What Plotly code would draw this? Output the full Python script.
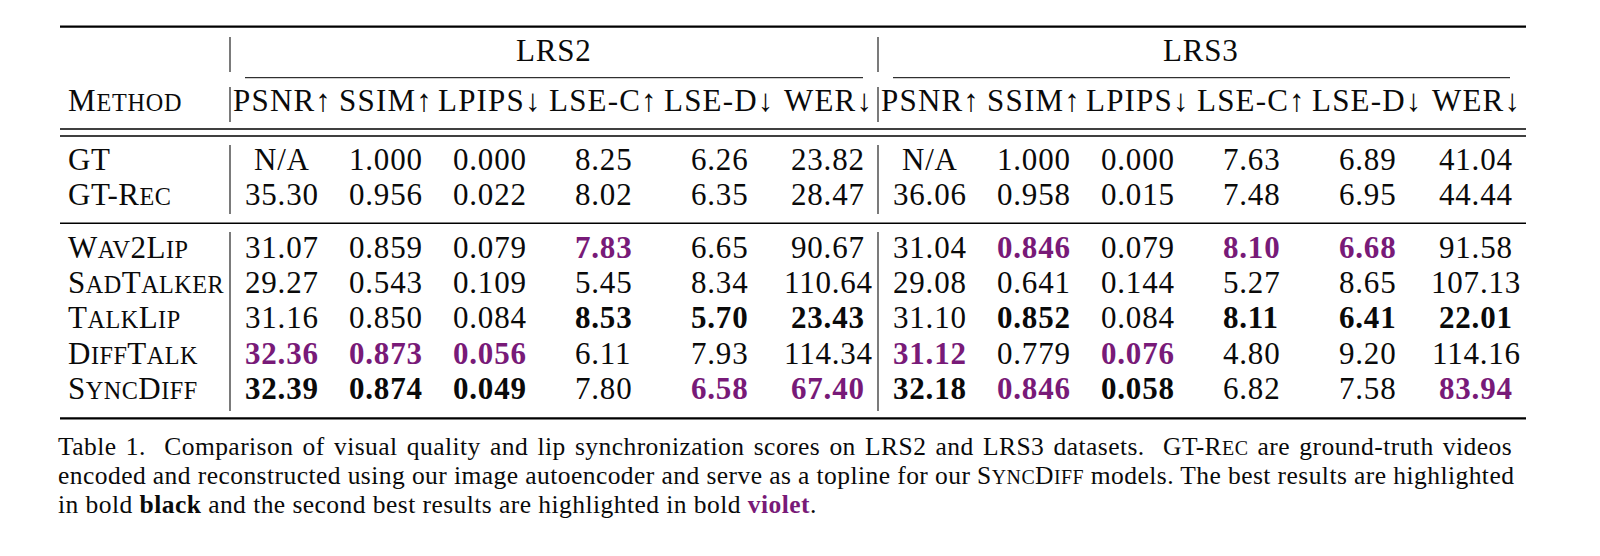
import plotly.graph_objects as go

# ---------------- data ----------------
methods = ["GT", "GT-Rec", "Wav2Lip", "SadTalker", "TalkLip", "DiffTalk", "SyncDiff"]
datasets = ["LRS2", "LRS3"]
metrics = ["PSNR", "SSIM", "LPIPS", "LSE-C", "LSE-D", "WER"]
higher_better = [True, True, False, True, False, False]

lrs2_psnr = ["N/A", "35.30", "31.07", "29.27", "31.16", "32.36", "32.39"]
lrs2_ssim = ["1.000", "0.956", "0.859", "0.543", "0.850", "0.873", "0.874"]
lrs2_lpips = ["0.000", "0.022", "0.079", "0.109", "0.084", "0.056", "0.049"]
lrs2_lsec = ["8.25", "8.02", "7.83", "5.45", "8.53", "6.11", "7.80"]
lrs2_lsed = ["6.26", "6.35", "6.65", "8.34", "5.70", "7.93", "6.58"]
lrs2_wer = ["23.82", "28.47", "90.67", "110.64", "23.43", "114.34", "67.40"]

lrs3_psnr = ["N/A", "36.06", "31.04", "29.08", "31.10", "31.12", "32.18"]
lrs3_ssim = ["1.000", "0.958", "0.846", "0.641", "0.852", "0.779", "0.846"]
lrs3_lpips = ["0.000", "0.015", "0.079", "0.144", "0.084", "0.076", "0.058"]
lrs3_lsec = ["7.63", "7.48", "8.10", "5.27", "8.11", "4.80", "6.82"]
lrs3_lsed = ["6.89", "6.95", "6.68", "8.65", "6.41", "9.20", "7.58"]
lrs3_wer = ["41.04", "44.44", "91.58", "107.13", "22.01", "114.16", "83.94"]

table = {
    "LRS2": [lrs2_psnr, lrs2_ssim, lrs2_lpips, lrs2_lsec, lrs2_lsed, lrs2_wer],
    "LRS3": [lrs3_psnr, lrs3_ssim, lrs3_lpips, lrs3_lsec, lrs3_lsed, lrs3_wer],
}
n_reference_rows = 2  # GT and GT-Rec are not ranked

caption_lines = [
    "Table 1.  Comparison of visual quality and lip synchronization scores on LRS2 and LRS3 datasets.  {GT-Rec} are ground-truth videos",
    "encoded and reconstructed using our image autoencoder and serve as a topline for our {SyncDiff} models. The best results are highlighted",
    "in bold [black] and the second best results are highlighted in bold <violet>.",
]

# ---------------- style / layout ----------------
W, H = 1600, 556
PAGE_MARGIN = 8  # default body margin of the html page
FONT = "Liberation Serif, Times New Roman, serif"
FS = 31
LS = 0.8          # letter spacing in table
SC_RATIO = 0.78
CAP_FS = 25.5
CAP_LS = 0.45
CAP_WS = [2.4, -0.1, 0.0]
VIOLET = "#781a78"
INK = "#0a0a0a"

X_LEFT, X_RIGHT = 60, 1526
LABEL_X = 66
CAP_X = 56
COL_X = {"LRS2": [282, 386, 490, 603, 719, 828]}
COL_X["LRS3"] = [x + 648 for x in COL_X["LRS2"]]
GROUP_X = {"LRS2": 554, "LRS3": 1201}
CMID = {"LRS2": (245, 863), "LRS3": (893, 1510)}
VBARS = [230, 878]
Y_GROUP = 51
Y_HEAD = 101
ROW_Y = [160, 194.5, 248, 283.2, 318.4, 353.6, 388.8]
CAP_Y = [447, 476, 505]
Y_OFF = -0.5


def sc(s, size):
    """Fake small caps: lowercase runs become smaller uppercase."""
    out, run = "", ""
    for ch in s:
        if ch.islower():
            run += ch
        else:
            if run:
                out += "<span style='font-size:%.1fpx'>%s</span>" % (size * SC_RATIO, run.upper())
                run = ""
            out += ch
    if run:
        out += "<span style='font-size:%.1fpx'>%s</span>" % (size * SC_RATIO, run.upper())
    return out


def ranks(col, hb):
    vals = [float(v) for v in col[n_reference_rows:]]
    uniq = sorted(set(vals), reverse=hb)
    best, second = uniq[0], uniq[1]
    res = []
    for i, v in enumerate(col):
        if i < n_reference_rows:
            res.append(0)
        else:
            fv = float(v)
            res.append(1 if fv == best else (2 if fv == second else 0))
    return res


fig = go.Figure()
fig.add_trace(go.Scatter(x=[0, W], y=[0, H], mode="markers", marker=dict(opacity=0),
                         hoverinfo="skip", showlegend=False))

ann = []


def add_text(x, y, text, size=FS, anchor="center", color=INK, ls=LS, ws=0.0):
    style = "letter-spacing:%.2fpx" % ls
    if ws:
        style += ";word-spacing:%.2fpx" % ws
    ann.append(dict(x=x, y=y + Y_OFF, xref="x", yref="y",
                    text="<span style='%s'>%s</span>" % (style, text), showarrow=False,
                    xanchor=anchor, yanchor="middle", align=anchor,
                    font=dict(family=FONT, size=size, color=color)))


# group headers
for d in datasets:
    add_text(GROUP_X[d], Y_GROUP, d)
# column headers
arrows = ["\u2191" if hb else "\u2193" for hb in higher_better]
add_text(LABEL_X, Y_HEAD, sc("Method", FS), anchor="left")
for d in datasets:
    for j, m in enumerate(metrics):
        add_text(COL_X[d][j], Y_HEAD, m + arrows[j], ls=1.2)
# rows
for i, m in enumerate(methods):
    add_text(LABEL_X, ROW_Y[i], sc(m, FS), anchor="left", ls=0.5)
for d in datasets:
    for j, col in enumerate(table[d]):
        rk = ranks(col, higher_better[j])
        for i, v in enumerate(col):
            if rk[i] == 1:
                add_text(COL_X[d][j], ROW_Y[i], "<b>%s</b>" % v)
            elif rk[i] == 2:
                add_text(COL_X[d][j], ROW_Y[i], "<b>%s</b>" % v, color=VIOLET)
            else:
                add_text(COL_X[d][j], ROW_Y[i], v)

# caption
for k, line in enumerate(caption_lines):
    t = line
    while "{" in t:
        a = t.index("{"); b = t.index("}")
        t = t[:a] + sc(t[a + 1:b], CAP_FS) + t[b + 1:]
    t = t.replace("[black]", "<b>black</b>")
    t = t.replace("<violet>", "<b><span style='color:%s'>violet</span></b>" % VIOLET)
    add_text(CAP_X, CAP_Y[k], t, size=CAP_FS, anchor="left", ls=CAP_LS, ws=CAP_WS[k])

# rules
shapes = []


def hline(y, x0, x1, w):
    shapes.append(dict(type="line", xref="x", yref="y", x0=x0, x1=x1, y0=y, y1=y,
                       line=dict(color="#000000", width=w)))


def vline(x, y0, y1):
    shapes.append(dict(type="line", xref="x", yref="y", x0=x, x1=x, y0=y0, y1=y1,
                       line=dict(color="#333333", width=1.3)))


hline(26.7, X_LEFT, X_RIGHT, 2.3)
for d in datasets:
    hline(77.7, CMID[d][0], CMID[d][1], 1.0)
hline(129, X_LEFT, X_RIGHT, 1.4)
hline(136, X_LEFT, X_RIGHT, 1.4)
hline(223.3, X_LEFT, X_RIGHT, 1.6)
hline(418.3, X_LEFT, X_RIGHT, 2.3)
for vx in VBARS:
    for (y0, y1) in [(37, 72), (87, 122), (145, 214), (232, 411)]:
        vline(vx, y0, y1)

# the page has an 8px body margin: map data coordinates straight to page pixels
fig.update_layout(
    width=W - PAGE_MARGIN, height=H - PAGE_MARGIN, margin=dict(l=0, r=0, t=0, b=0),
    paper_bgcolor="white", plot_bgcolor="white",
    xaxis=dict(range=[PAGE_MARGIN, W], visible=False, fixedrange=True),
    yaxis=dict(range=[H, PAGE_MARGIN], visible=False, fixedrange=True),
    annotations=ann, shapes=shapes, showlegend=False,
)
fig.write_html("out.html")
